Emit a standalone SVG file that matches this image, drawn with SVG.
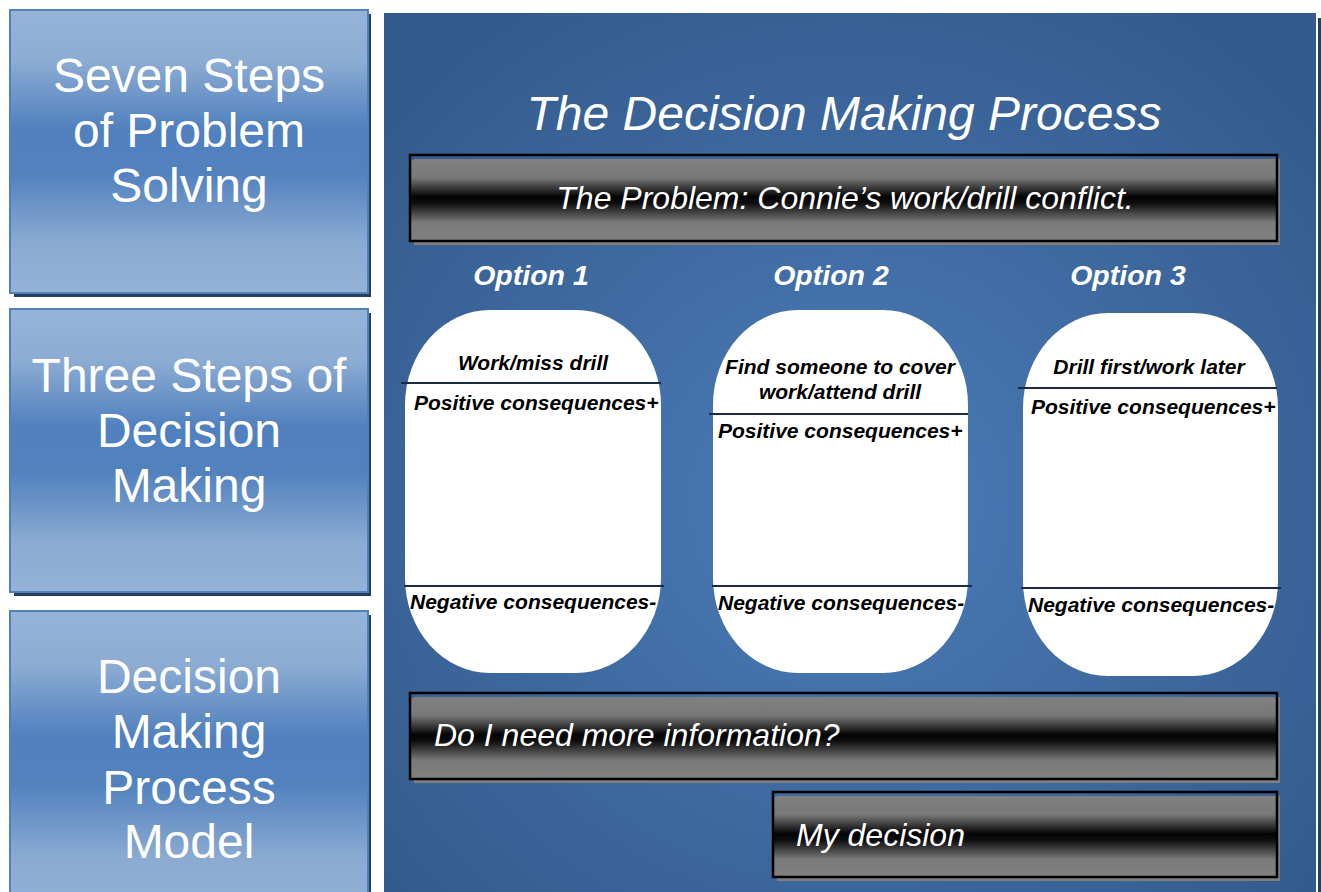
<svg xmlns="http://www.w3.org/2000/svg" width="1321" height="892" viewBox="0 0 1321 892">
<defs>
<linearGradient id="gBlue" x1="0" y1="0" x2="0" y2="1">
<stop offset="0" stop-color="#96b4d8"/>
<stop offset="0.18" stop-color="#8cacd3"/>
<stop offset="0.42" stop-color="#5080be"/>
<stop offset="0.58" stop-color="#5282be"/>
<stop offset="0.82" stop-color="#8aaad2"/>
<stop offset="1" stop-color="#95b2d7"/>
</linearGradient>
<linearGradient id="gBar" x1="0" y1="0" x2="0" y2="1">
<stop offset="0" stop-color="#808080"/>
<stop offset="0.22" stop-color="#787878"/>
<stop offset="0.46" stop-color="#030303"/>
<stop offset="0.54" stop-color="#0e0e0e"/>
<stop offset="0.78" stop-color="#7a7a7a"/>
<stop offset="1" stop-color="#808080"/>
</linearGradient>
<radialGradient id="gPanel" cx="0.5" cy="0.55" r="0.65">
<stop offset="0" stop-color="#4b7cb8"/>
<stop offset="1" stop-color="#345b8d"/>
</radialGradient>
</defs>
<style>
.lbox{fill:url(#gBlue);stroke:#4f81bd;stroke-width:2}
.lshadow{fill:#243f60}
.ltxt{font-family:"Liberation Sans",Arial,sans-serif;font-size:48px;fill:#fff;text-anchor:middle}
.bshadow{fill:#7f7f7f}
.bfill{fill:url(#gBar)}
.boutline{fill:none;stroke:#000;stroke-width:2.5}
.btxt{font-family:"Liberation Sans",Arial,sans-serif;font-style:italic;font-size:32px;fill:#fff}
.opt{font-family:"Liberation Sans",Arial,sans-serif;font-style:italic;font-weight:bold;font-size:28.5px;fill:#fff;text-anchor:middle}
.cap{fill:#fff}
.sep{stroke:#1b2a44;stroke-width:2}
.ctxt{font-family:"Liberation Sans",Arial,sans-serif;font-style:italic;font-weight:bold;font-size:21px;fill:#000}
</style>
<rect width="1321" height="892" fill="#fff"/>

<g id="node-seven-steps">
<rect class="lshadow" x="14" y="14" width="357" height="283"/>
<rect class="lbox" x="10" y="10" width="358" height="283"/>
<text class="ltxt" x="189" y="92">Seven Steps</text>
<text class="ltxt" x="189" y="147">of Problem</text>
<text class="ltxt" x="189" y="202">Solving</text>
</g>

<g id="node-three-steps">
<rect class="lshadow" x="14" y="313" width="357" height="283"/>
<rect class="lbox" x="10" y="309" width="358" height="283"/>
<text class="ltxt" x="189" y="392">Three Steps of</text>
<text class="ltxt" x="189" y="447">Decision</text>
<text class="ltxt" x="189" y="502">Making</text>
</g>

<g id="node-dmp-model">
<rect class="lshadow" x="14" y="615" width="357" height="300"/>
<rect class="lbox" x="10" y="611" width="358" height="300"/>
<text class="ltxt" x="189" y="693">Decision</text>
<text class="ltxt" x="189" y="748">Making</text>
<text class="ltxt" x="189" y="804">Process</text>
<text class="ltxt" x="189" y="858">Model</text>
</g>

<g id="node-panel">
<rect x="1318" y="18" width="5" height="880" fill="#243f60"/>
<rect x="384" y="13" width="932" height="890" fill="url(#gPanel)"/>
<text x="844" y="130" font-family="'Liberation Sans',Arial,sans-serif" font-style="italic" font-size="48" fill="#fff" text-anchor="middle">The Decision Making Process</text>
</g>

<g id="node-problem">
<rect class="bshadow" x="414" y="159" width="866" height="86"/>
<rect class="bfill" x="411" y="160" width="865" height="80"/>
<rect class="boutline" x="410" y="155" width="867" height="86"/>
<text class="btxt" x="845" y="209" text-anchor="middle">The Problem: Connie’s work/drill conflict.</text>
</g>

<g id="node-option1">
<text class="opt" x="531" y="285">Option 1</text>
<rect class="cap" x="405" y="310" width="256" height="363" rx="85" ry="95"/>
<text class="ctxt" x="533" y="370" text-anchor="middle">Work/miss drill</text>
<text class="ctxt" x="414" y="410">Positive consequences+</text>
<text class="ctxt" x="410" y="609">Negative consequences-</text>
</g>

<g id="node-option2">
<text class="opt" x="831" y="285">Option 2</text>
<rect class="cap" x="713" y="310" width="255" height="363" rx="85" ry="95"/>
<text class="ctxt" x="840" y="374" text-anchor="middle">Find someone to cover</text>
<text class="ctxt" x="840" y="399" text-anchor="middle">work/attend drill</text>
<text class="ctxt" x="718" y="438">Positive consequences+</text>
<text class="ctxt" x="718" y="610">Negative consequences-</text>
</g>

<g id="node-option3">
<text class="opt" x="1128" y="285">Option 3</text>
<rect class="cap" x="1023" y="313" width="255" height="363" rx="85" ry="95"/>
<text class="ctxt" x="1149" y="374" text-anchor="middle">Drill first/work later</text>
<text class="ctxt" x="1031" y="414">Positive consequences+</text>
<text class="ctxt" x="1028" y="612">Negative consequences-</text>
</g>

<g id="node-more-info">
<rect class="bshadow" x="414" y="697" width="866" height="86"/>
<rect class="bfill" x="411" y="698" width="865" height="80"/>
<rect class="boutline" x="410" y="693" width="867" height="86"/>
<text class="btxt" x="434" y="746">Do I need more information?</text>
</g>

<g id="node-my-decision">
<rect class="bshadow" x="777" y="796" width="503" height="85"/>
<rect class="bfill" x="774" y="797" width="502" height="80"/>
<rect class="boutline" x="773" y="792" width="504" height="85"/>
<text class="btxt" x="796" y="846">My decision</text>
</g>

<g id="connectors">
<line class="sep" x1="401" y1="383" x2="661" y2="383"/>
<line class="sep" x1="404" y1="586" x2="664" y2="586"/>
<line class="sep" x1="709" y1="414" x2="968" y2="414"/>
<line class="sep" x1="712" y1="586" x2="972" y2="586"/>
<line class="sep" x1="1018" y1="388" x2="1277" y2="388"/>
<line class="sep" x1="1021" y1="588" x2="1281" y2="588"/>
</g>
</svg>
